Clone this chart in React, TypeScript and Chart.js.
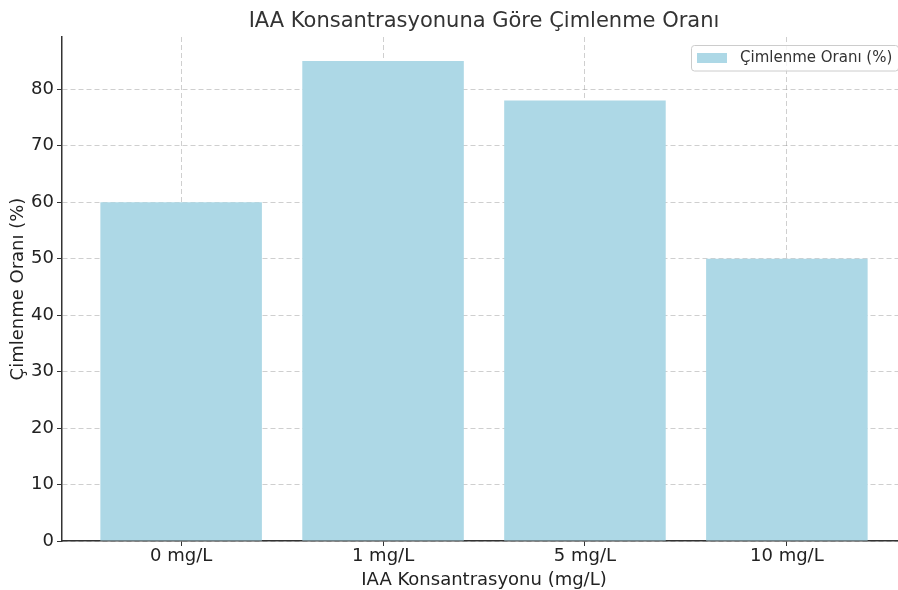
import React, { useEffect, useRef } from "react";
import { Chart, registerables } from "chart.js";

Chart.register(...registerables);

const categories = ["0 mg/L", "1 mg/L", "5 mg/L", "10 mg/L"];
const germinationRates = [60, 85, 78, 50];
const yTickValues = [0, 10, 20, 30, 40, 50, 60, 70, 80];
const titleText = "IAA Konsantrasyonuna Göre Çimlenme Oranı";
const xLabel = "IAA Konsantrasyonu (mg/L)";
const yLabel = "Çimlenme Oranı (%)";
const seriesLabel = "Çimlenme Oranı (%)";

const FONT = "'DejaVu Sans', sans-serif";

export default function App() {
  const ref = useRef<HTMLCanvasElement | null>(null);

  useEffect(() => {
    document.body.style.margin = "0";
    document.body.style.overflow = "hidden";
    const canvas = ref.current!;
    const overlay = {
      id: "overlay",
      afterDraw(chart: any) {
        const ctx = chart.ctx as CanvasRenderingContext2D;
        const ca = chart.chartArea;
        ctx.save();
        ctx.fillStyle = "#333333";
        ctx.font = `21px ${FONT}`;
        ctx.textAlign = "center";
        ctx.textBaseline = "middle";
        ctx.fillText(titleText, (ca.left + ca.right) / 2, 21.5);
        ctx.beginPath();
        (ctx as any).roundRect(691.5, 45.5, 207, 25.5, 3);
        ctx.fillStyle = "rgba(255,255,255,0.8)";
        ctx.fill();
        ctx.strokeStyle = "#cccccc";
        ctx.lineWidth = 1;
        ctx.stroke();
        ctx.fillStyle = "#ADD8E6";
        ctx.fillRect(697, 53, 30, 10);
        ctx.fillStyle = "#333333";
        ctx.font = `15px ${FONT}`;
        ctx.textAlign = "left";
        ctx.fillText(seriesLabel, 740, 58.5);
        ctx.restore();
      },
    };

    const gridOpts = {
      color: "rgba(128,128,128,0.38)",
      tickBorderDash: [],
      tickColor: "#333333",
      tickLength: 5,
      lineWidth: 1,
      drawTicks: true,
      offset: false,
    };
    const borderOpts = { display: true, color: "#333333", width: 1.5, dash: [5, 3] };

    const chart = new Chart(canvas, {
      type: "bar",
      data: {
        datasets: [
          {
            label: seriesLabel,
            data: categories.map((c, i) => ({ x: i, y: germinationRates[i] })),
            backgroundColor: "#ADD8E6",
            borderWidth: 0,
            categoryPercentage: 1,
            barPercentage: 0.8,
          },
        ],
      },
      options: {
        responsive: false,
        animation: false,
        devicePixelRatio: 1,
        layout: { padding: { top: 37, right: 4, left: 0, bottom: 0 } },
        plugins: {
          legend: { display: false },
          title: { display: false },
          tooltip: { enabled: false },
        },
        scales: {
          x: {
            type: "linear",
            min: -0.59,
            max: 3.59,
            offset: false,
            z: 1,
            afterFit: (s: any) => {
              s.height = 51;
            },
            afterBuildTicks: (s: any) => {
              s.ticks = categories.map((_, i) => ({ value: i }));
            },
            ticks: {
              callback: (v: any) => categories[Math.round(Number(v))] ?? "",
              font: { family: FONT, size: 18 },
              color: "#222222",
              padding: 0,
              maxRotation: 0,
              autoSkip: false,
            },
            grid: gridOpts,
            border: borderOpts,
            title: {
              display: true,
              text: xLabel,
              font: { family: FONT, size: 18 },
              color: "#222222",
              padding: { top: 0, bottom: 0.5 },
            },
          },
          y: {
            type: "linear",
            min: 0,
            max: 89.25,
            z: 1,
            afterFit: (s: any) => {
              s.width = 62;
            },
            afterBuildTicks: (s: any) => {
              s.ticks = yTickValues.map((v) => ({ value: v }));
            },
            ticks: {
              font: { family: FONT, size: 18 },
              color: "#222222",
              padding: 3,
            },
            grid: gridOpts,
            border: borderOpts,
            title: {
              display: true,
              text: yLabel,
              font: { family: FONT, size: 18 },
              color: "#222222",
              padding: { top: 7.5, bottom: 0 },
            },
          },
        },
      },
      plugins: [overlay],
    } as any);
    return () => chart.destroy();
  }, []);

  return (
    <canvas
      ref={ref}
      width={910}
      height={592}
      style={{ position: "absolute", left: 0, top: 0, width: 910, height: 592 }}
    />
  );
}
